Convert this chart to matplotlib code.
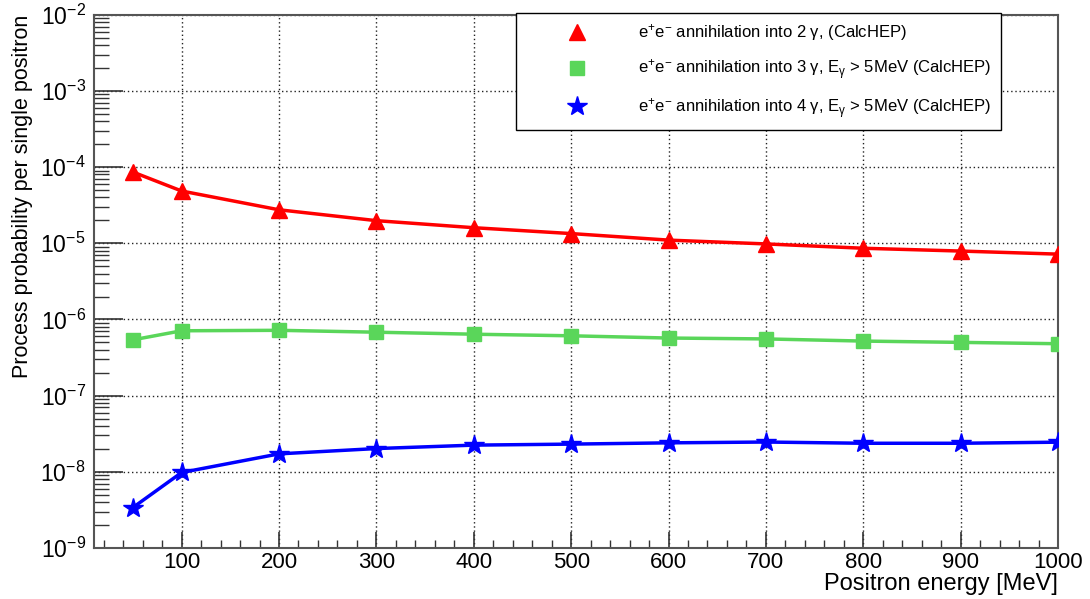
import numpy as np
import matplotlib
matplotlib.use('Agg')
import matplotlib.pyplot as plt
from matplotlib.lines import Line2D
from matplotlib.ticker import LogLocator, MultipleLocator

plt.rcParams['font.family'] = ['Liberation Sans', 'DejaVu Sans']
plt.rcParams['mathtext.fontset'] = 'custom'
plt.rcParams['mathtext.rm'] = 'Liberation Sans'
plt.rcParams['mathtext.it'] = 'Liberation Sans:italic'
plt.rcParams['mathtext.default'] = 'regular'

# positron energy [MeV]
energy = [50, 100, 200, 300, 400, 500, 600, 700, 800, 900, 1000]

# process probability per single positron
prob_2g = [8.6e-5, 4.85e-5, 2.75e-5, 1.98e-5, 1.6e-5, 1.34e-5, 1.1e-5, 9.8e-6, 8.6e-6, 7.9e-6, 7.2e-6]
prob_3g = [5.4e-7, 7.1e-7, 7.2e-7, 6.8e-7, 6.4e-7, 6.1e-7, 5.7e-7, 5.55e-7, 5.2e-7, 5.0e-7, 4.8e-7]
prob_4g = [3.4e-9, 9.8e-9, 1.72e-8, 2.02e-8, 2.24e-8, 2.31e-8, 2.4e-8, 2.46e-8, 2.37e-8, 2.37e-8, 2.45e-8]

xticks = [100, 200, 300, 400, 500, 600, 700, 800, 900, 1000]

labels = [r'e$^{+}$e$^{-}$ annihilation into 2 γ, (CalcHEP)',
          r'e$^{+}$e$^{-}$ annihilation into 3 γ, E$_{γ}$ > 5MeV (CalcHEP)',
          r'e$^{+}$e$^{-}$ annihilation into 4 γ, E$_{γ}$ > 5MeV (CalcHEP)']

red = '#ff0000'
green = '#5ad65a'
blue = '#0000ff'

fig = plt.figure(figsize=(10.9, 5.99), dpi=100)
ax = fig.add_axes([94/1090, 1-548/599, (1058-94)/1090, (548-14.7)/599])

ax.plot(energy, prob_2g, color=red, lw=2.5, marker='^', ms=12, zorder=3)
ax.plot(energy, prob_3g, color=green, lw=2.5, marker='s', ms=10, zorder=3)
ax.plot(energy, prob_4g, color=blue, lw=2.5, marker='*', ms=15, zorder=3)

ax.set_yscale('log')
ax.set_xlim(10, 1000)
ax.set_ylim(1e-9, 1e-2)

ax.xaxis.set_minor_locator(MultipleLocator(20))
ax.yaxis.set_major_locator(LogLocator(base=10, numticks=20))
ax.yaxis.set_minor_locator(LogLocator(base=10, subs=np.arange(2, 10), numticks=20))
ax.set_xticks(xticks)

ax.grid(True, which='major', ls=(0, (1, 2)), color='#222222', lw=1.0)
ax.set_axisbelow(True)

ax.tick_params(axis='both', which='both', direction='in', colors='#333333',
               labelcolor='black', labelsize=16.5, top=False, right=False)
ax.tick_params(axis='y', which='major', length=21, width=1.2, pad=6)
ax.tick_params(axis='y', which='minor', length=11, width=1.0)
ax.tick_params(axis='x', which='major', length=11.5, width=1.2, pad=3, labelsize=16)
ax.tick_params(axis='x', which='minor', length=6, width=1.0)

for s in ax.spines.values():
    s.set_color('#555555')
    s.set_linewidth(1.5)

ax.set_xlabel('Positron energy [MeV]', fontsize=17, loc='right', labelpad=0)
ax.set_ylabel('Process probability per single positron', fontsize=15.5, loc='top', labelpad=5)

handles = [Line2D([], [], ls='none', marker='^', ms=12, color=red),
           Line2D([], [], ls='none', marker='s', ms=10, color=green),
           Line2D([], [], ls='none', marker='*', ms=15, color=blue)]
leg = fig.legend(handles, labels, loc='upper left', bbox_to_anchor=(516/1090, 1-13/599),
                 fontsize=12, frameon=True, fancybox=False, edgecolor='black',
                 framealpha=1, borderpad=0.55, handlelength=6.2, handletextpad=0.6,
                 labelspacing=0.85, borderaxespad=0)
leg.get_frame().set_linewidth(1.0)

fig.savefig('out.png', dpi=100)
